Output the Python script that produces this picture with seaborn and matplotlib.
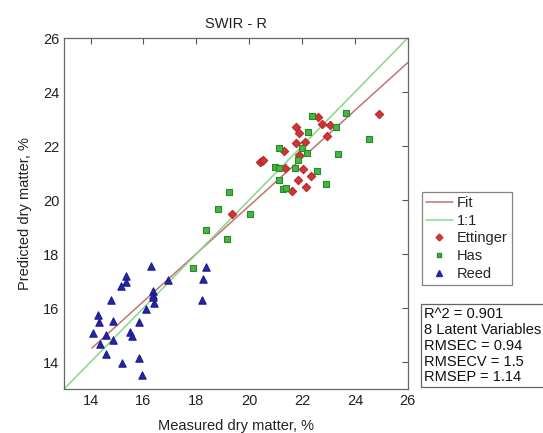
import matplotlib
matplotlib.use("Agg")
import matplotlib.pyplot as plt
import seaborn as sns
import pandas as pd
from matplotlib.lines import Line2D

# measured / predicted dry matter, per site
ettinger_x = [19.35, 20.40, 20.47, 20.53, 21.33, 21.35, 21.62, 21.76, 21.78, 21.84, 21.88,
              21.89, 22.03, 22.10, 22.15, 22.35, 22.61, 22.74, 22.93, 23.07, 24.92]
ettinger_y = [19.50, 21.41, 21.44, 21.49, 21.80, 21.19, 20.32, 22.69, 22.13, 20.73, 22.47,
              21.67, 21.14, 22.15, 20.47, 20.88, 23.06, 22.80, 22.38, 22.79, 23.19]

has_x = [17.89, 18.38, 18.81, 19.16, 19.24, 20.02, 20.99, 21.13, 21.13, 21.13, 21.29, 21.41,
         21.73, 21.83, 21.98, 22.20, 22.24, 22.36, 22.55, 22.89, 23.27, 23.37, 23.65, 24.54]
has_y = [17.49, 18.89, 19.67, 18.56, 20.31, 19.49, 21.23, 21.20, 21.94, 20.75, 20.42, 20.46,
         21.19, 21.48, 21.94, 21.75, 22.53, 23.12, 21.08, 20.59, 22.72, 21.70, 23.22, 22.27]

reed_x = [14.11, 14.30, 14.32, 14.36, 14.58, 14.58, 14.76, 14.86, 14.86, 15.14, 15.18, 15.33,
          15.34, 15.49, 15.57, 15.85, 15.85, 15.94, 16.10, 16.30, 16.37, 16.37, 16.35, 16.41,
          16.94, 18.20, 18.27, 18.38]
reed_y = [15.06, 15.74, 15.47, 14.67, 14.99, 14.31, 16.30, 15.53, 14.81, 16.83, 13.95, 17.20,
          16.97, 15.10, 14.97, 15.47, 14.15, 13.52, 15.95, 17.56, 16.62, 16.48, 16.42, 16.17,
          17.04, 16.30, 17.06, 17.53]

fit_slope = 0.885
fit_intercept = 2.08
stats_lines = ["R^2 = 0.901", "8 Latent Variables", "RMSEC = 0.94", "RMSECV = 1.5", "RMSEP = 1.14"]

df = pd.DataFrame({
    "measured": ettinger_x + has_x + reed_x,
    "predicted": ettinger_y + has_y + reed_y,
    "site": ["Ettinger"] * len(ettinger_x) + ["Has"] * len(has_x) + ["Reed"] * len(reed_x),
})

sns.set_style("white")
plt.rcParams["font.family"] = ["Liberation Sans", "DejaVu Sans"]

colors = {"Ettinger": "#d03535", "Has": "#45b545", "Reed": "#2525a5"}
edges = {"Ettinger": "#b82a2a", "Has": "#2a8a2a", "Reed": "#1c1c90"}
markers = {"Ettinger": "D", "Has": "s", "Reed": "^"}
sizes = {"Ettinger": 18, "Has": 18, "Reed": 28}
fit_color = "#c77070"
one_color = "#85d885"

fig = plt.figure(figsize=(5.43, 4.33), dpi=100)
ax = fig.add_axes([0.118, 0.1016, 0.633, 0.8106])

lo, hi = 13, 26
x0 = min(df["measured"]) - 0.06
ax.plot([x0, hi], [fit_intercept + fit_slope * x0, fit_intercept + fit_slope * hi],
        color=fit_color, lw=1.1, zorder=1)
ax.plot([lo, hi], [lo, hi], color=one_color, lw=1.1, zorder=1)

for site in ["Ettinger", "Has", "Reed"]:
    sub = df[df.site == site]
    sns.scatterplot(data=sub, x="measured", y="predicted", marker=markers[site],
                    color=colors[site], s=sizes[site], edgecolor=edges[site],
                    linewidth=0.8, ax=ax, zorder=3)

ax.set_xlim(lo, hi)
ax.set_ylim(lo, hi)
ax.set_xticks(range(14, 27, 2))
ax.set_yticks(range(14, 27, 2))
ax.tick_params(direction="in", length=4, top=True, right=True, labelsize=10.5,
               color="#555555", labelcolor="#222222", width=0.8)
for s in ax.spines.values():
    s.set_color("#666666")
    s.set_linewidth(0.9)
ax.set_xlabel("Measured dry matter, %", fontsize=10.5, color="#222222", labelpad=8)
ax.set_ylabel("Predicted dry matter, %", fontsize=10.5, color="#222222", labelpad=8)
ax.set_title("SWIR - R", fontsize=10.5, color="#222222", pad=7)

handles = [
    Line2D([], [], color=fit_color, lw=1.1),
    Line2D([], [], color=one_color, lw=1.1),
    Line2D([], [], ls="", marker="D", ms=3.5, color=colors["Ettinger"]),
    Line2D([], [], ls="", marker="s", ms=3.5, color=colors["Has"], mec=edges["Has"]),
    Line2D([], [], ls="", marker="^", ms=4.5, color=colors["Reed"]),
]
leg = fig.legend(handles, ["Fit", "1:1", "Ettinger", "Has", "Reed"],
                 loc="upper left", bbox_to_anchor=(0.777, 0.557), fontsize=10.5,
                 frameon=True, fancybox=False, handlelength=1.8, handletextpad=0.3,
                 borderpad=0.3, labelspacing=0.25, borderaxespad=0)
leg.get_frame().set_edgecolor("#666666")
leg.get_frame().set_linewidth(0.9)

fig.text(0.781, 0.291, "\n".join(stats_lines), fontsize=10.5, color="#111111",
         va="top", ha="left", linespacing=1.17,
         bbox=dict(boxstyle="square,pad=0.2", fc="white", ec="#666666", lw=0.9))

fig.savefig("out.png", dpi=100)
